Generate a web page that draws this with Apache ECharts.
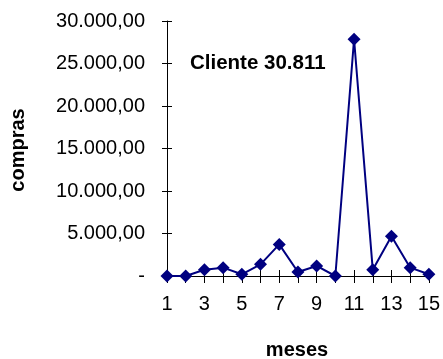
<!DOCTYPE html>
<html>
<head>
<meta charset="utf-8">
<script src="https://cdn.jsdelivr.net/npm/echarts@6/dist/echarts.min.js"></script>
<style>
  html, body { margin: 0; padding: 0; background: #fff; }
  #chart { width: 443px; height: 359px; }
</style>
</head>
<body>
<div id="chart"></div>
<script>
// Monthly purchases of one customer
const months = ['1','2','3','4','5','6','7','8','9','10','11','12','13','14','15'];
const purchases = [0, 0, 740, 980, 200, 1370, 3720, 470, 1180, 0, 27850, 740, 4670, 980, 200];
const yTicks = { min: 0, max: 30000, step: 5000 };
const chartLabel = 'Cliente 30.811';
const xTitle = 'meses';
const yTitle = 'compras';

const FONT = 'Arial, "Liberation Sans", sans-serif';

function fmtValue(v) {
  if (v === 0) return '-';
  const s = Math.round(v).toString().replace(/\B(?=(\d{3})+(?!\d))/g, '.');
  return s + ',00';
}

const chart = echarts.init(document.getElementById('chart'));
const grid = { left: 167, right: 12, top: 21, bottom: 83 };

chart.setOption({
  backgroundColor: '#ffffff',
  animation: false,
  grid: grid,
  xAxis: [
    {
      type: 'category',
      data: months,
      boundaryGap: false,
      axisLine: { lineStyle: { color: '#000', width: 1 } },
      axisTick: { show: true, interval: 0, length: 7, lineStyle: { color: '#000' } },
      axisLabel: { interval: 1, color: '#000', fontFamily: FONT, fontSize: 20, margin: 18 },
      splitLine: { show: false }
    },
    {
      type: 'category',
      data: months,
      boundaryGap: false,
      position: 'bottom',
      axisLine: { show: false },
      axisTick: { show: true, inside: true, interval: 0, length: 6, lineStyle: { color: '#000' } },
      axisLabel: { show: false },
      splitLine: { show: false }
    }
  ],
  yAxis: [
    {
      type: 'value',
      min: yTicks.min,
      max: yTicks.max,
      interval: yTicks.step,
      axisLine: { show: true, lineStyle: { color: '#000', width: 1 } },
      axisTick: { show: true, length: 5, lineStyle: { color: '#000' } },
      axisLabel: { color: '#000', fontFamily: FONT, fontSize: 20, margin: 22, formatter: fmtValue },
      splitLine: { show: false }
    },
    {
      type: 'value',
      min: yTicks.min,
      max: yTicks.max,
      interval: yTicks.step,
      position: 'left',
      axisLine: { show: false },
      axisTick: { show: true, inside: true, length: 5, lineStyle: { color: '#000' } },
      axisLabel: { show: false },
      splitLine: { show: false }
    }
  ],
  series: [{
    type: 'line',
    data: purchases,
    xAxisIndex: 0,
    yAxisIndex: 0,
    symbol: 'diamond',
    symbolSize: 13,
    showAllSymbol: true,
    lineStyle: { color: '#000080', width: 2 },
    itemStyle: { color: '#000080' },
    z: 5
  }],
  graphic: [
    {
      type: 'text',
      left: 190,
      top: 53,
      style: { text: chartLabel, font: 'bold 20.5px ' + FONT, fill: '#000' }
    },
    {
      type: 'text',
      x: 297,
      y: 350,
      style: { text: xTitle, font: 'bold 20px ' + FONT, fill: '#000', align: 'center', verticalAlign: 'middle' }
    },
    {
      type: 'text',
      x: 18,
      y: 150,
      rotation: Math.PI / 2,
      style: { text: yTitle, font: 'bold 20px ' + FONT, fill: '#000', align: 'center', verticalAlign: 'middle' }
    }
  ]
});
</script>
</body>
</html>
